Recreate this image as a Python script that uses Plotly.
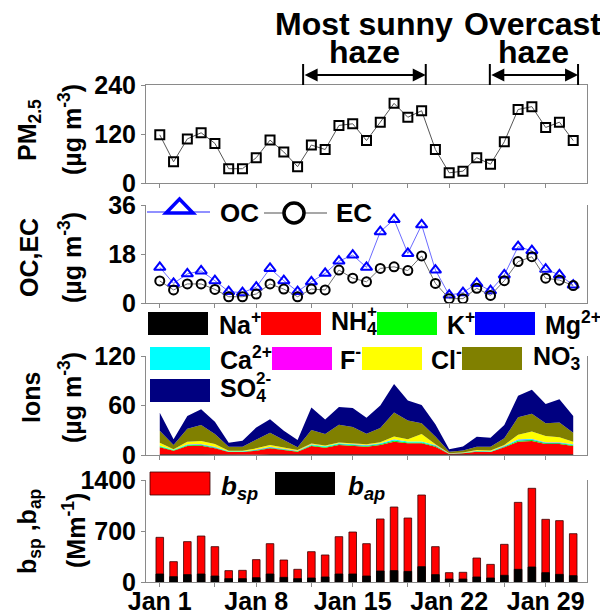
import plotly.graph_objects as go

W, H = 600, 608      # figure size; the page adds an 8 px body margin
OFF = 8              # page body margin (px)

# ---------------- data ----------------
day = [1, 2, 3, 4, 5, 6, 7, 8, 9, 10, 11, 12, 13, 14, 15, 16, 17, 18, 19, 20,
       21, 22, 23, 24, 25, 26, 27, 28, 29, 30, 31]
tick_vals = [1, 5, 8, 12, 15, 19, 22, 26, 29]
tick_text = ["Jan 1", "", "Jan 8", "", "Jan 15", "", "Jan 22", "", "Jan 29"]

pm25 = [118, 52, 108, 123, 97, 35, 35, 62, 105, 76, 40, 93, 82, 141, 145, 104,
        149, 195, 161, 177, 82, 25, 29, 62, 46, 101, 180, 187, 136, 149, 104]

oc = [13.1, 7.2, 10.7, 11.8, 8.2, 4.2, 3.8, 5.8, 12.7, 8.2, 4.2, 7.8, 10.9, 15.4,
      17.6, 13.1, 26.2, 30.7, 18.2, 28.7, 12.1, 2.9, 3.8, 7.2, 4.5, 10.3, 20.7,
      19.2, 12.4, 10.3, 6.6]
ec = [8.1, 4.8, 7.0, 7.0, 5.0, 2.3, 2.3, 3.3, 7.0, 5.1, 2.3, 5.1, 4.8, 12.1, 9.1,
      7.8, 12.7, 13.3, 11.9, 17.3, 7.2, 1.6, 1.6, 5.4, 2.8, 8.2, 15.2, 17.0, 9.1,
      8.4, 6.4]

na = [1.0, 0.6, 1.0, 1.0, 0.8, 0.4, 0.4, 0.6, 0.8, 0.6, 0.5, 0.9, 0.8, 1.0, 1.0,
      0.9, 1.0, 1.2, 1.1, 1.1, 0.9, 0.3, 0.3, 0.5, 0.4, 0.8, 1.2, 1.2, 1.0, 1.0, 0.9]
nh4 = [8.3, 4.7, 9.9, 10.3, 7.3, 3.2, 3.2, 4.7, 7.3, 5.5, 3.5, 10.0, 8.1, 11.1,
       10.3, 9.2, 11.1, 15.0, 13.0, 13.0, 9.2, 0.9, 1.7, 3.5, 3.2, 8.5, 15.0, 15.8,
       12.3, 12.3, 10.0]
k = [0.9, 0.5, 0.9, 0.9, 0.8, 0.4, 0.4, 0.6, 0.8, 0.6, 0.5, 0.9, 0.8, 1.0, 1.0,
     0.9, 1.0, 1.2, 1.1, 1.1, 0.9, 0.2, 0.3, 0.5, 0.4, 0.8, 1.2, 1.2, 1.0, 1.0, 0.9]
mg = [0.1, 0.05, 0.1, 0.1, 0.1, 0.05, 0.05, 0.05, 0.1, 0.05, 0.05, 0.1, 0.1, 0.1,
      0.1, 0.1, 0.1, 0.15, 0.1, 0.1, 0.1, 0.03, 0.03, 0.05, 0.05, 0.1, 0.15, 0.15,
      0.1, 0.1, 0.1]
ca = [0.8, 0.5, 0.8, 0.8, 0.7, 0.4, 0.4, 0.5, 0.7, 0.5, 0.4, 0.8, 0.7, 0.9, 0.9,
      0.8, 0.9, 1.1, 1.0, 1.0, 0.8, 0.2, 0.3, 0.4, 0.4, 0.7, 1.1, 1.1, 0.9, 0.9, 0.8]
f_ion = [0.2, 0.1, 0.2, 0.2, 0.2, 0.1, 0.1, 0.1, 0.2, 0.1, 0.1, 0.2, 0.2, 0.2, 0.2,
         0.2, 0.2, 0.3, 0.2, 0.2, 0.2, 0.05, 0.05, 0.1, 0.1, 0.2, 0.3, 0.3, 0.2,
         0.2, 0.2]
cl = [3.7, 0.5, 3.3, 3.7, 3.4, 0.7, 0.7, 1.5, 2.2, 1.9, 1.0, 1.0, 0.8, 1.0, 1.0,
      0.8, 1.2, 3.5, 2.6, 9.1, 1.0, 0.3, 0.3, 1.1, 0.8, 1.0, 5.5, 8.8, 7.6, 6.0, 3.3]
no3 = [14.5, 5.2, 15.7, 19.4, 12.2, 4.8, 4.8, 10.9, 15.0, 8.9, 3.2, 16.5, 14.1,
       21.4, 19.4, 12.9, 17.3, 29.1, 22.6, 12.9, 9.3, 2.0, 2.5, 4.0, 4.8, 8.1, 21.4,
       21.4, 15.4, 17.8, 10.9]
so4 = [21.8, 6.9, 15.4, 19.0, 14.9, 4.9, 7.3, 14.5, 16.1, 11.3, 8.9, 27.1, 17.4,
       21.4, 23.1, 19.4, 27.1, 34.4, 24.3, 22.2, 15.0, 2.9, 4.8, 12.1, 10.9, 16.2,
       25.9, 29.1, 23.4, 28.3, 20.2]

b_sp = [613, 279, 554, 631, 485, 156, 160, 307, 526, 302, 174, 416, 371, 622, 686,
        526, 865, 1029, 878, 1194, 485, 128, 133, 329, 242, 517, 1093, 1286, 860,
        842, 663]
b_ap = [110, 73, 101, 110, 82, 46, 46, 59, 110, 64, 46, 55, 69, 110, 110, 82, 151,
        156, 146, 210, 101, 41, 41, 69, 55, 92, 174, 206, 128, 105, 87]

# legend labels: main text and a charge written stacked above the subscript
ion_names = ["Na<sup>+</sup>", "NH<sub>4</sub>", "K<sup>+</sup>",
             "Mg<sup>2+</sup>", "Ca<sup>2+</sup>", "F<sup>-</sup>", "Cl<sup>-</sup>",
             "NO<sub>3</sub>", "SO<sub>4</sub>"]
ion_stacked_charge = ["", "+", "", "", "", "", "", "-", "2-"]
ion_series = [na, nh4, k, mg, ca, f_ion, cl, no3, so4]
ion_colors = ["#000000", "#FF0000", "#00FF00", "#0000FF", "#00FFFF", "#FF00FF",
              "#FFFF00", "#808000", "#000080"]

# ---------------- helpers (window pixel -> paper) ----------------
def px(x):
    return (x - OFF) / W


def py(y):
    return 1 - (y - OFF) / H


FONT = "Liberation Sans, Arial, sans-serif"
AX = "#8a8a8a"

fig = go.Figure()

# Panel 1: PM2.5
fig.add_trace(go.Scatter(x=day, y=pm25, mode="lines+markers", xaxis="x", yaxis="y",
                         line=dict(color="#555555", width=1),
                         marker=dict(symbol="square-open", size=9, color="black",
                                     line=dict(width=2, color="black")),
                         showlegend=False))
# Panel 2: OC / EC
fig.add_trace(go.Scatter(x=day, y=oc, mode="lines+markers", xaxis="x2", yaxis="y2",
                         line=dict(color="#6b6bff", width=1),
                         marker=dict(symbol="triangle-up-open", size=10, color="#0000ff",
                                     line=dict(width=2, color="#0000ff")),
                         showlegend=False))
fig.add_trace(go.Scatter(x=day, y=ec, mode="lines+markers", xaxis="x2", yaxis="y2",
                         line=dict(color="#707070", width=1),
                         marker=dict(symbol="circle-open", size=9, color="black",
                                     line=dict(width=2, color="black")),
                         showlegend=False))
# Panel 3: ions stacked areas
for name, ser, col in zip(ion_names, ion_series, ion_colors):
    fig.add_trace(go.Scatter(x=day, y=ser, mode="lines", xaxis="x3", yaxis="y3",
                             stackgroup="ions", line=dict(width=0, color=col),
                             fillcolor=col, name=name, showlegend=False))
# Panel 4: bsp / bap
fig.add_trace(go.Bar(x=day, y=b_sp, xaxis="x4", yaxis="y4", width=0.55,
                     marker=dict(color="#FF0000", line=dict(color="#3a0000", width=0.8)),
                     showlegend=False))
fig.add_trace(go.Bar(x=day, y=b_ap, xaxis="x4", yaxis="y4", width=0.55,
                     marker=dict(color="#000000", line=dict(color="#000000", width=0.8)),
                     showlegend=False))

xdom = [px(146), px(587)]
panels = [  # (top px, bottom px, range, ticks)
    (85, 183, [0, 240], [0, 120, 240]),
    (205, 303, [0, 36], [0, 18, 36]),
    (356, 455, [0, 120], [0, 60, 120]),
    (480, 582, [0, 1400], [0, 700, 1400]),
]

layout = dict(
    width=W, height=H, autosize=False,
    margin=dict(l=0, r=0, t=0, b=0, pad=0, autoexpand=False),
    paper_bgcolor="white", plot_bgcolor="white",
    font=dict(family=FONT, size=25, color="black", weight="bold"),
    barmode="overlay", showlegend=False,
)
for i, (top, bot, rng, tv) in enumerate(panels):
    sx = "" if i == 0 else str(i + 1)
    layout["xaxis" + sx] = dict(
        domain=xdom, anchor="y" + sx, range=[0, 32], automargin=False,
        tickmode="array", tickvals=tick_vals, ticktext=tick_text,
        showticklabels=(i == 3), ticks="outside", ticklen=4, tickcolor=AX,
        ticklabelstandoff=-7,
        showline=True, linecolor=AX, linewidth=1, mirror=(i == 0),
        showgrid=False, zeroline=False,
        tickfont=dict(size=25, family=FONT, weight="bold", color="black"),
    )
    layout["yaxis" + sx] = dict(
        domain=[py(bot), py(top)], anchor="x" + sx, range=rng, automargin=False,
        tickmode="array", tickvals=tv, ticks="outside", ticklen=4, tickcolor=AX,
        showline=True, linecolor=AX, linewidth=1, mirror=True,
        showgrid=False, zeroline=False,
        tickfont=dict(size=25, family=FONT, weight="bold", color="black"),
    )
fig.update_layout(**layout)

shapes = []
annots = []


def text(x, y, s, size=25, xanchor="left", angle=0):
    annots.append(dict(x=px(x), y=py(y), xref="paper", yref="paper", text=s,
                       showarrow=False, xanchor=xanchor, yanchor="middle",
                       textangle=angle,
                       font=dict(family=FONT, size=size, color="black", weight="bold")))


def rect(x0, y0, x1, y1, color, line=None):
    shapes.append(dict(type="rect", xref="paper", yref="paper",
                       x0=px(x0), x1=px(x1), y0=py(y1), y1=py(y0),
                       fillcolor=color, line=dict(width=0.8 if line else 0,
                                                  color=line or color)))


# Y-axis titles
text(29, 130, "PM<sub>2.5</sub>", xanchor="center", angle=-90)
text(70, 130, "(µg m<sup>-3</sup>)", xanchor="center", angle=-90)
text(29, 258, "OC,EC", xanchor="center", angle=-90)
text(70, 258, "(µg m<sup>-3</sup>)", xanchor="center", angle=-90)
text(31, 398, "Ions", xanchor="center", angle=-90)
text(70, 398, "(µg m<sup>-3</sup>)", xanchor="center", angle=-90)
text(29, 532, "b<sub>sp</sub> ,b<sub>ap</sub>", xanchor="center", angle=-90)
text(74, 531, "(Mm<sup>-1</sup>)", xanchor="center", angle=-90)

# Top labels
text(364, 24, "Most sunny", size=32, xanchor="center")
text(364, 52, "haze", size=32, xanchor="center")
text(532, 24, "Overcast", size=32, xanchor="center")
text(533, 52, "haze", size=32, xanchor="center")

# Period arrows
for a, b in [(11.4, 20.3), (24.95, 31.35)]:
    annots.append(dict(x=b, y=py(75), xref="x", yref="paper", ax=a, ay=0,
                       axref="x", ayref="pixel", text="", showarrow=True,
                       arrowhead=2, arrowsize=1.3, arrowwidth=2, arrowcolor="black",
                       arrowside="end+start", standoff=0, startstandoff=0))
    for xv in (a, b):
        shapes.append(dict(type="line", xref="x", yref="paper", x0=xv, x1=xv,
                           y0=py(85), y1=py(64), line=dict(color="black", width=2)))

# OC/EC legend
shapes.append(dict(type="line", xref="paper", yref="paper", x0=px(147), x1=px(210),
                   y0=py(212), y1=py(212), line=dict(color="#6b6bff", width=1.5)))
tri = "M {} {} L {} {} L {} {} Z".format(px(166), py(213), px(193), py(213),
                                          px(179.5), py(199))
shapes.append(dict(type="path", xref="paper", yref="paper", path=tri,
                   fillcolor="white", line=dict(color="#0000ff", width=3.5)))
text(218, 213, "OC", size=26)
shapes.append(dict(type="line", xref="paper", yref="paper", x0=px(264), x1=px(327),
                   y0=py(213), y1=py(213), line=dict(color="#8a8a8a", width=1.5)))
shapes.append(dict(type="circle", xref="paper", yref="paper",
                   x0=px(284), x1=px(304), y0=py(223), y1=py(203),
                   fillcolor="white", line=dict(color="black", width=3.5)))
text(334, 213, "EC", size=26)

# Ions legend
ion_leg = [  # rect x0, rect y0, text x
    (148, 312, 217), (261, 312, 329), (377, 312, 445), (475, 312, 543),
    (150, 347, 218), (272, 347, 338), (362, 347, 429), (462, 347, 531),
    (150, 379, 218),
]
for (rx, ry, tx), name, chg, col in zip(ion_leg, ion_names, ion_stacked_charge,
                                         ion_colors):
    rect(rx, ry, rx + 60, ry + 23, col)
    text(tx, ry + 11, name, size=25)
    if chg:
        text(tx + 36, ry - 1, chg, size=17)

# bsp/bap legend
rect(150, 472, 210, 495, "#FF0000", line="#3a0000")
text(219, 487, "<i>b</i><sub><i>sp</i></sub>", size=26)
rect(275, 472, 335, 495, "#000000")
text(346, 487, "<i>b</i><sub><i>ap</i></sub>", size=26)

fig.update_layout(shapes=shapes, annotations=annots)
fig.write_html("out.html")
